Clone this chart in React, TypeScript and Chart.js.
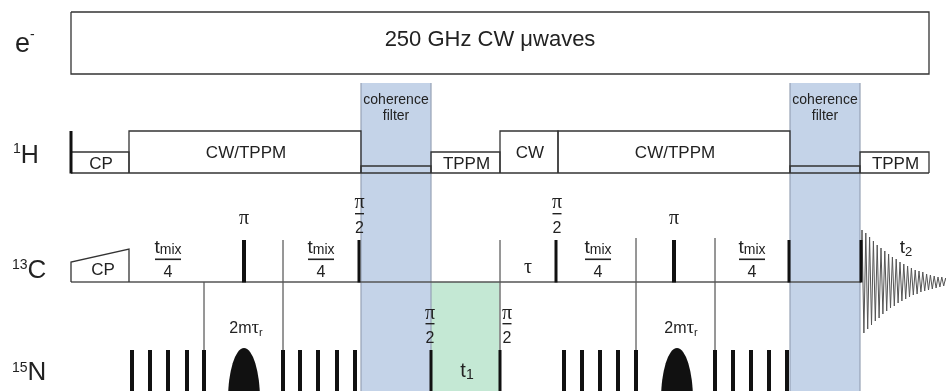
import React, { useEffect, useRef } from "react";
import { Chart, registerables } from "chart.js";
Chart.register(...registerables);

// ---------- diagram data (time along x, level along y) ----------
const seqStart = 71;
const seqEnd = 929;

// e- channel: CW microwave block
const eBlockSpan = [71, 929];
const eBlockLevels = [12, 74];
const eBlockText = "250 GHz CW \u03bcwaves";

// 1H channel
const hBase = 173;
const hBlockStart = [71, 129, 361, 431, 500, 558, 790, 860];
const hBlockEnd = [129, 361, 431, 500, 558, 790, 860, 929];
const hBlockLevel = [152, 131, 166, 152, 131, 131, 166, 152];
const hBlockText = ["CP", "CW/TPPM", "", "TPPM", "CW", "CW/TPPM", "", "TPPM"];
const hPulseX = [71];
const hPulseTop = 131;

// 13C channel
const cBase = 282;
const cPulseTop = 240;
const cCPRamp = [71, 129];
const cCPLevels = [262, 249];
const cPulseX = [244, 359, 556, 674, 789, 861];
const cPulseW = [4, 3, 3, 4, 3, 3];
const cEnd = 861;

// timing marks crossing 13C -> 15N
const markX = [204, 283, 500, 636, 715];
const markTop = [282, 240, 240, 238, 238];

// 15N channel
const nBase = 400;
const nPulseTop = 350;
const nPulseX = [132, 150, 168, 187, 204, 283, 300, 318, 337, 355, 564, 582, 600, 618, 636, 715, 733, 751, 769, 787];
const nHalfPulseX = [431, 500];
const nShapedX = [244, 677];
const nShapedTop = 348;
const nShapedHalfWidth = 16;

// windows
const filterStart = [361, 790];
const filterEnd = [431, 860];
const filterTop = 83;
const t1Window = [431, 500];
const bottomLevel = 391;

// FID (successive extrema, amplitude above/below 13C baseline)
const fidStart = 861;
const fidHalfPeriod = 1.9;
const fidExtrema = [52, -51, 49, -47, 45, -43, 41, -39, 37, -36, 34, -32, 31, -29, 28, -26, 25, -24, 23, -21, 20, -19, 18, -17, 16, -15, 14, -13, 12, -12, 11, -10, 10, -9, 8, -8, 7, -7, 6, -6, 5, -5, 5, -4, 4, -4];

// labels
const filterText = ["coherence", "filter"];
const tmixCenters = [168, 321, 598, 752];
const piCenters = [244, 674];
const cHalfCenters = [359.5, 557];
const nHalfCenters = [430, 507];
const tauCenter = 528;
const twoMTauCenters = [246, 681];
const t1Center = 467;
const t2Center = 906;

// ---------- helpers ----------
const SANS = "'Liberation Sans', Arial, Helvetica, sans-serif";
const SERIF = "'Liberation Serif', 'Times New Roman', serif";
const INK = "#222";

type P = { x: number; y: number };
function lineDs(pts: P[], color: string, width: number, order = 0): any {
  return {
    data: pts,
    showLine: true,
    pointRadius: 0,
    pointHoverRadius: 0,
    borderColor: color,
    borderWidth: width,
    borderCapStyle: "butt",
    borderJoinStyle: "miter",
    fill: false,
    tension: 0,
    order,
  };
}
function fillDs(x0: number, x1: number, top: number, color: string, order = 10): any {
  return {
    data: [{ x: x0, y: top }, { x: x1, y: top }],
    showLine: true,
    pointRadius: 0,
    borderColor: "rgba(0,0,0,0)",
    borderWidth: 1,
    backgroundColor: color,
    fill: { target: { value: bottomLevel } },
    tension: 0,
    order,
  };
}

function buildDatasets(): any[] {
  const ds: any[] = [];
  // shaded windows
  filterStart.forEach((s, i) => ds.push(fillDs(s, filterEnd[i], filterTop, "rgba(190,206,230,0.9)")));
  ds.push(fillDs(t1Window[0], t1Window[1], cBase, "rgba(196,232,212,1)", 11));
  // window edges (faint)
  filterStart.forEach((s, i) => {
    ds.push(lineDs([{ x: s, y: filterTop }, { x: s, y: bottomLevel }], "rgba(150,160,180,0.5)", 1, 5));
    ds.push(lineDs([{ x: filterEnd[i], y: filterTop }, { x: filterEnd[i], y: bottomLevel }], "rgba(150,160,180,0.5)", 1, 5));
  });
  // e- block
  ds.push(
    lineDs(
      [
        { x: eBlockSpan[0], y: eBlockLevels[0] },
        { x: eBlockSpan[1], y: eBlockLevels[0] },
        { x: eBlockSpan[1], y: eBlockLevels[1] },
        { x: eBlockSpan[0], y: eBlockLevels[1] },
        { x: eBlockSpan[0], y: eBlockLevels[0] },
      ],
      "#333",
      1.3
    )
  );
  // 1H baseline + blocks
  ds.push(lineDs([{ x: seqStart, y: hBase }, { x: seqEnd, y: hBase }], "#333", 1.3, 1));
  hBlockStart.forEach((s, i) => {
    ds.push(
      lineDs(
        [
          { x: s, y: hBase },
          { x: s, y: hBlockLevel[i] },
          { x: hBlockEnd[i], y: hBlockLevel[i] },
          { x: hBlockEnd[i], y: hBase },
        ],
        "#333",
        1.3,
        1
      )
    );
  });
  hPulseX.forEach((x) => ds.push(lineDs([{ x, y: hBase + 0.5 }, { x, y: hPulseTop }], "#111", 3)));
  // 13C baseline, CP ramp
  ds.push(lineDs([{ x: seqStart, y: cBase }, { x: cEnd, y: cBase }], "#555", 1.4, 2));
  ds.push(
    lineDs(
      [
        { x: cCPRamp[0], y: cBase },
        { x: cCPRamp[0], y: cCPLevels[0] },
        { x: cCPRamp[1], y: cCPLevels[1] },
        { x: cCPRamp[1], y: cBase },
      ],
      "#333",
      1.3,
      1
    )
  );
  // timing marks (beneath pulses)
  markX.forEach((x, i) => ds.push(lineDs([{ x, y: markTop[i] }, { x, y: bottomLevel }], "#888", 1, 3)));
  // 13C pulses
  cPulseX.forEach((x, i) => ds.push(lineDs([{ x, y: cBase + 0.5 }, { x, y: cPulseTop }], "#111", cPulseW[i])));
  // 15N pulses
  nPulseX.forEach((x) => ds.push(lineDs([{ x, y: nBase }, { x, y: nPulseTop }], "#111", 4)));
  nHalfPulseX.forEach((x) => ds.push(lineDs([{ x, y: nBase }, { x, y: nPulseTop }], "#111", 3)));
  // FID
  const fid: P[] = [{ x: fidStart, y: cBase }];
  fidExtrema.forEach((a, i) => fid.push({ x: fidStart + 1 + i * fidHalfPeriod, y: cBase - a }));
  ds.push(lineDs(fid, "#555", 1, 1));
  return ds;
}

type Run = { t: string; f: string; dy?: number };
function drawRuns(ctx: CanvasRenderingContext2D, runs: Run[], x: number, y: number, align: "center" | "left") {
  ctx.textAlign = "left";
  ctx.textBaseline = "alphabetic";
  const widths = runs.map((r) => {
    ctx.font = r.f;
    return ctx.measureText(r.t).width;
  });
  const total = widths.reduce((a, b) => a + b, 0);
  let cx = align === "center" ? x - total / 2 : x;
  runs.forEach((r, i) => {
    ctx.font = r.f;
    ctx.fillText(r.t, cx, y + (r.dy || 0));
    cx += widths[i];
  });
}

const overlayPlugin = {
  id: "overlay",
  afterDatasetsDraw(chart: any) {
    const ctx: CanvasRenderingContext2D = chart.ctx;
    const xs = chart.scales.x;
    const ys = chart.scales.y;
    const X = (v: number) => xs.getPixelForValue(v);
    const Y = (v: number) => ys.getPixelForValue(v);
    const area = chart.chartArea;
    ctx.save();
    // shaped (selective) 15N pulses
    ctx.beginPath();
    ctx.rect(area.left, area.top, area.right - area.left, area.bottom - area.top);
    ctx.clip();
    ctx.fillStyle = "#111";
    nShapedX.forEach((x) => {
      ctx.beginPath();
      ctx.ellipse(X(x), Y(nBase), X(x + nShapedHalfWidth) - X(x), Y(nBase) - Y(nShapedTop), 0, 0, Math.PI * 2);
      ctx.fill();
    });
    ctx.restore();

    ctx.save();
    ctx.fillStyle = INK;
    // channel labels
    drawRuns(ctx, [{ t: "e", f: `27px ${SANS}` }, { t: "-", f: `14px ${SANS}`, dy: -13 }], X(15), Y(52), "left");
    drawRuns(ctx, [{ t: "1", f: `14px ${SANS}`, dy: -10 }, { t: "H", f: `25px ${SANS}` }], X(13), Y(163), "left");
    drawRuns(ctx, [{ t: "13", f: `14px ${SANS}`, dy: -9 }, { t: "C", f: `26px ${SANS}` }], X(12), Y(278), "left");
    drawRuns(ctx, [{ t: "15", f: `14px ${SANS}`, dy: -8 }, { t: "N", f: `26px ${SANS}` }], X(12), Y(380), "left");

    // e- block text
    drawRuns(ctx, [{ t: eBlockText, f: `22px ${SANS}` }], X(490), Y(46), "center");

    // 1H block texts
    hBlockText.forEach((t, i) => {
      if (!t) return;
      const mid = (hBlockLevel[i] + hBase) / 2;
      drawRuns(ctx, [{ t, f: `17px ${SANS}` }], X((hBlockStart[i] + hBlockEnd[i]) / 2 + 1), Y(mid) + 6, "center");
    });
    // 13C CP
    drawRuns(ctx, [{ t: "CP", f: `17px ${SANS}` }], X(103), Y(275), "center");

    // coherence filter labels
    filterStart.forEach((s, i) => {
      const c = (s + filterEnd[i]) / 2;
      drawRuns(ctx, [{ t: filterText[0], f: `14px ${SANS}` }], X(c), Y(104), "center");
      drawRuns(ctx, [{ t: filterText[1], f: `14px ${SANS}` }], X(c), Y(120), "center");
    });

    // tmix/4 fractions
    tmixCenters.forEach((c) => {
      drawRuns(ctx, [{ t: "t", f: `19px ${SANS}` }, { t: "mix", f: `14px ${SANS}`, dy: 1 }], X(c), Y(252.5), "center");
      ctx.fillRect(X(c - 13), Y(258.5), X(c + 13) - X(c - 13), 1.6);
      drawRuns(ctx, [{ t: "4", f: `16px ${SANS}` }], X(c), Y(277), "center");
    });

    // pi labels
    piCenters.forEach((c) => drawRuns(ctx, [{ t: "\u03c0", f: `20px ${SERIF}` }], X(c), Y(223.5), "center"));
    const half = (c: number, piBase: number, barY: number, twoBase: number) => {
      drawRuns(ctx, [{ t: "\u03c0", f: `20px ${SERIF}` }], X(c), Y(piBase), "center");
      ctx.fillRect(X(c - 4.5), Y(barY), X(c + 4.5) - X(c - 4.5), 1.4);
      drawRuns(ctx, [{ t: "2", f: `16px ${SANS}` }], X(c), Y(twoBase), "center");
    };
    cHalfCenters.forEach((c) => half(c, 207.5, 213, 233));
    nHalfCenters.forEach((c) => half(c, 318.5, 323, 343));

    // tau
    drawRuns(ctx, [{ t: "\u03c4", f: `20px ${SERIF}` }], X(tauCenter), Y(272.5), "center");
    // 2m tau_r
    twoMTauCenters.forEach((c) =>
      drawRuns(
        ctx,
        [
          { t: "2m", f: `16px ${SANS}` },
          { t: "\u03c4", f: `19px ${SERIF}` },
          { t: "r", f: `11px ${SANS}`, dy: 3 },
        ],
        X(c),
        Y(333),
        "center"
      )
    );
    // t1, t2
    drawRuns(ctx, [{ t: "t", f: `20px ${SANS}` }, { t: "1", f: `14px ${SANS}`, dy: 2 }], X(t1Center), Y(377), "center");
    drawRuns(ctx, [{ t: "t", f: `19px ${SANS}` }, { t: "2", f: `13px ${SANS}`, dy: 3 }], X(t2Center), Y(253), "center");
    ctx.restore();
  },
};

export default function App() {
  const ref = useRef<HTMLCanvasElement | null>(null);
  useEffect(() => {
    if (!ref.current) return;
    const chart = new Chart(ref.current, {
      type: "scatter",
      data: { datasets: buildDatasets() },
      options: {
        animation: false,
        responsive: false,
        devicePixelRatio: 1,
        events: [],
        layout: { padding: 0 },
        plugins: { legend: { display: false }, tooltip: { enabled: false } },
        scales: {
          x: { type: "linear", min: 0, max: 946, display: false },
          y: { type: "linear", min: 0, max: bottomLevel, reverse: true, display: false },
        },
      },
      plugins: [overlayPlugin],
    } as any);
    return () => chart.destroy();
  }, []);
  return (
    <div style={{ position: "absolute", left: 0, top: 0, width: 946, height: 391, background: "#fff" }}>
      <canvas ref={ref} width={946} height={391} style={{ display: "block" }} />
    </div>
  );
}
